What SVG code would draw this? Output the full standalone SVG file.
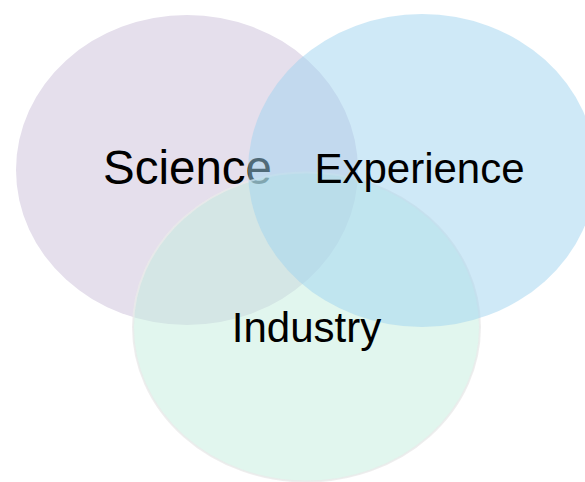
<svg xmlns="http://www.w3.org/2000/svg" width="585" height="482" viewBox="0 0 585 482">
<style>
.lbl{font-family:"Liberation Sans",Arial,sans-serif;fill:#000;text-anchor:middle}
</style>
<rect width="585" height="482" fill="#fff"/>
<g id="science">
<ellipse cx="187" cy="170" rx="171" ry="155" fill="#E5DFEC"/>
<text class="lbl" x="187.5" y="183.5" font-size="47.5">Science</text>
</g>
<g id="industry">
<ellipse cx="306.5" cy="327" rx="173.5" ry="154.5" fill="#C3EDDD" fill-opacity="0.5" stroke="#EAEAEA" stroke-width="2" stroke-opacity="0.8"/>
</g>
<g id="experience">
<ellipse cx="422" cy="170.5" rx="174" ry="156.5" fill="#9FD3F0" fill-opacity="0.5"/>
</g>
<text class="lbl" x="419.5" y="183" font-size="42">Experience</text>
<text class="lbl" x="306.5" y="342" font-size="42">Industry</text>
<g id="connectors"/>
</svg>
